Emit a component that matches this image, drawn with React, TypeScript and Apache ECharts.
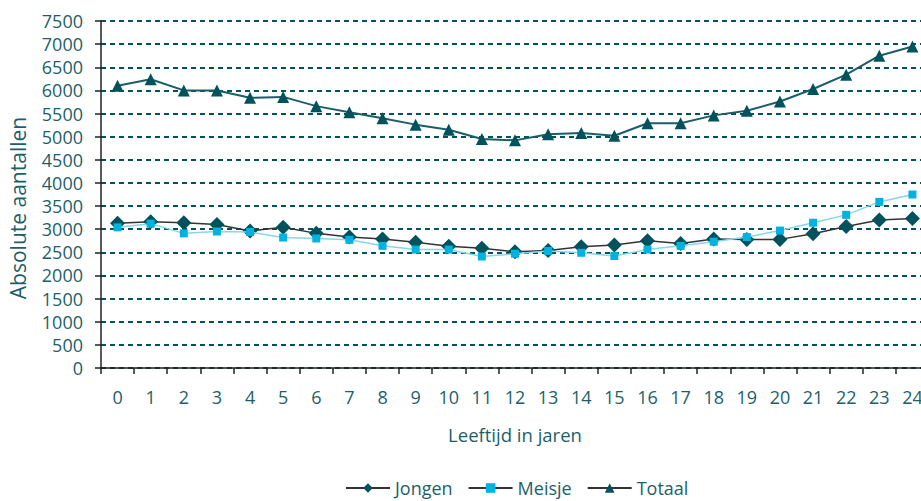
import React, { useEffect, useRef } from "react";
import * as echarts from "echarts";

// Leeftijd in jaren (0 t/m 24)
const ages: string[] = [
  "0", "1", "2", "3", "4", "5", "6", "7", "8", "9", "10", "11", "12",
  "13", "14", "15", "16", "17", "18", "19", "20", "21", "22", "23", "24",
];

const jongen: number[] = [
  3130, 3160, 3140, 3100, 2960, 3040, 2910, 2830, 2790, 2720, 2630, 2590, 2510,
  2540, 2620, 2660, 2750, 2690, 2790, 2780, 2780, 2900, 3060, 3200, 3230,
];

const meisje: number[] = [
  3040, 3120, 2910, 2950, 2940, 2820, 2800, 2770, 2640, 2560, 2560, 2410, 2470,
  2530, 2490, 2420, 2560, 2640, 2730, 2830, 2970, 3140, 3310, 3590, 3750,
];

const totaal: number[] = [
  6100, 6240, 6000, 6000, 5840, 5860, 5660, 5530, 5400, 5260, 5150, 4950, 4920,
  5050, 5080, 5020, 5290, 5290, 5460, 5560, 5760, 6030, 6340, 6750, 6950,
];

const TEAL = "#00525c";
const LABEL = "#1d5f69";
const FONT = "'Open Sans', 'Noto Sans', sans-serif";

export default function App() {
  const ref = useRef<HTMLDivElement>(null);

  useEffect(() => {
    if (!ref.current) return;
    const chart = echarts.init(ref.current, undefined, { renderer: "svg" });
    chart.setOption({
      animation: false,
      textStyle: { fontFamily: FONT },
      // the chart canvas is a little wider than the visible frame, so the last column is cut
      grid: { left: 101, top: 21, bottom: 133, right: 0, containLabel: false },
      graphic: [
        {
          type: "text",
          x: 17.5,
          y: 208,
          rotation: Math.PI / 2,
          style: {
            text: "Absolute aantallen",
            fill: LABEL,
            fontSize: 21,
            fontFamily: FONT,
            align: "center",
            verticalAlign: "middle",
          },
        },
      ],
      legend: {
        left: 345,
        top: 479,
        padding: 0,
        itemWidth: 44,
        itemHeight: 12,
        itemGap: 15,
        textStyle: { color: LABEL, fontSize: 18, fontFamily: FONT },
        data: [
          { name: "Jongen", itemStyle: { color: TEAL }, lineStyle: { color: "#333333" } },
          { name: "Meisje", itemStyle: { color: "#00b2e0" }, lineStyle: { color: "#333333" } },
          { name: "Totaal", itemStyle: { color: TEAL }, lineStyle: { color: "#333333" } },
        ],
      },
      xAxis: {
        type: "category",
        data: ages,
        boundaryGap: true,
        name: "Leeftijd in jaren",
        nameLocation: "middle",
        nameGap: 57,
        nameTextStyle: { color: LABEL, fontSize: 18.5, fontFamily: FONT },
        axisLine: { lineStyle: { color: "#222222", width: 1.5 } },
        axisTick: { show: true, length: 6, lineStyle: { color: "#222222", width: 1.5 } },
        axisLabel: { color: LABEL, fontSize: 18, margin: 20, fontFamily: FONT },
        splitLine: { show: false },
      },
      yAxis: {
        type: "value",
        min: 0,
        max: 7500,
        interval: 500,
        axisLine: { show: true, lineStyle: { color: "#222222", width: 1.5 } },
        axisTick: { show: true, length: 6, lineStyle: { color: "#222222", width: 1.5 } },
        axisLabel: {
          color: LABEL,
          fontSize: 18,
          margin: 18,
          fontFamily: FONT,
          formatter: (v: number) => String(v),
        },
        splitLine: {
          show: true,
          lineStyle: { color: TEAL, width: 2, type: [5, 4] },
        },
      },
      series: [
        {
          name: "Jongen",
          type: "line",
          data: jongen,
          symbol: "diamond",
          symbolSize: 15,
          z: 3,
          itemStyle: { color: TEAL },
          lineStyle: { color: "#333333", width: 1.5 },
        },
        {
          name: "Meisje",
          type: "line",
          data: meisje,
          symbol: "rect",
          symbolSize: 8,
          z: 4,
          itemStyle: { color: "#00b2e0" },
          lineStyle: { color: "#86d6ee", width: 1.5 },
        },
        {
          name: "Totaal",
          type: "line",
          data: totaal,
          symbol: "triangle",
          symbolSize: 12,
          z: 3,
          itemStyle: { color: TEAL },
          lineStyle: { color: "#1b5e68", width: 2 },
        },
      ],
    });
    return () => chart.dispose();
  }, []);

  return (
    <div style={{ position: "absolute", left: 0, top: 0, width: 921, height: 501, overflow: "hidden" }}>
      <div ref={ref} style={{ width: 929, height: 501 }} />
    </div>
  );
}
